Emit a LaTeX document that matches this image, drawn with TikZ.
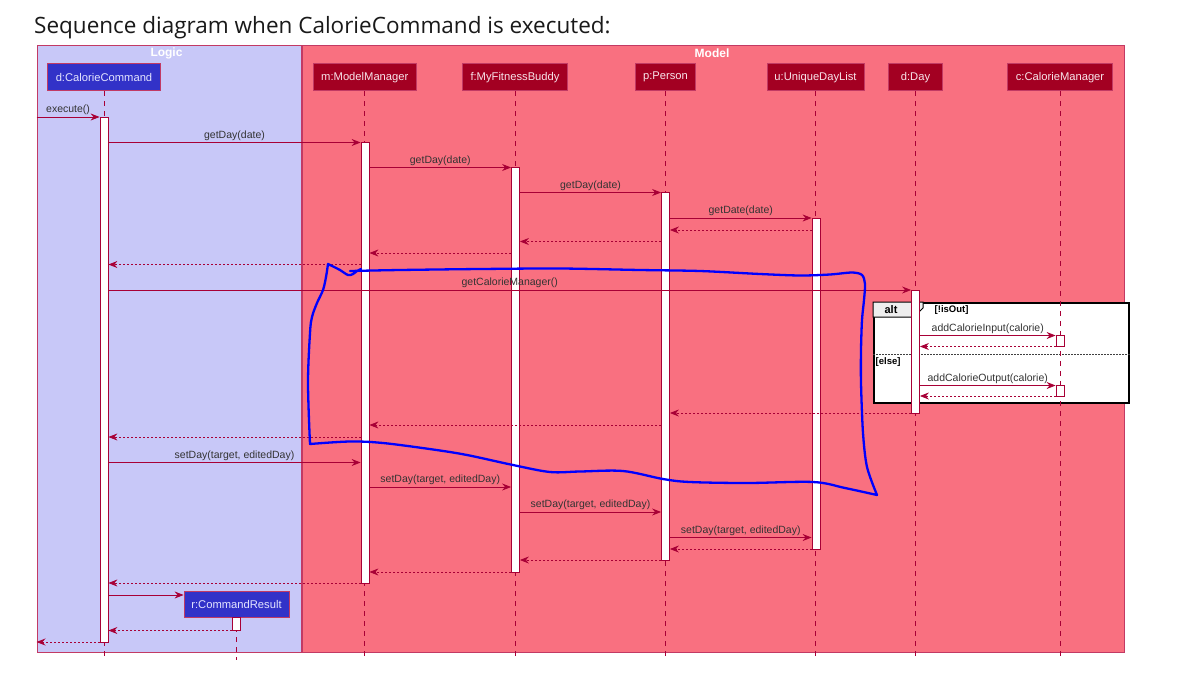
\documentclass[tikz,border=0pt]{standalone}
\usepackage{fontspec}
\setmainfont{Liberation Sans}
\newfontfamily\titlefont{Open Sans}
\usetikzlibrary{arrows.meta}
\definecolor{logicbg}{HTML}{C8C8F8}
\definecolor{modelbg}{HTML}{F97080}
\definecolor{umlred}{HTML}{A80036}
\definecolor{partred}{HTML}{A30022}
\definecolor{partblue}{HTML}{3232C8}
\definecolor{boxborder}{HTML}{C23A64}
\definecolor{lbltext}{HTML}{333333}
\definecolor{altgray}{HTML}{EEEEEE}
\definecolor{parttext}{HTML}{F8E4EA}
\definecolor{bparttext}{HTML}{E4E4FF}
\tikzset{
 part/.style={draw=boxborder, line width=0.8pt, fill=partred, text=parttext, font=\fontsize{11.2}{13}\selectfont, minimum height=27pt, inner sep=0pt},
 bluepart/.style={part, fill=partblue, text=bparttext},
 actbar/.style={draw=umlred, line width=0.8pt, fill=white, minimum width=8pt, inner sep=0pt},
 life/.style={draw=umlred, line width=0.8pt, dash pattern=on 5pt off 5pt},
 msg/.style={draw=umlred, line width=0.8pt, -{Stealth[length=9pt,width=7pt,inset=3pt]}},
 ret/.style={msg, dash pattern=on 2pt off 2pt},
 lbl/.style={text=lbltext, font=\fontsize{10.5}{12}\selectfont, inner sep=1.5pt, above},
 pkgtitle/.style={text=white, font=\bfseries\fontsize{12}{14}\selectfont},
 pkgbox/.style={draw=boxborder, line width=1pt},
 guard/.style={text=black, font=\bfseries\fontsize{9.5}{11}\selectfont, inner sep=0pt, anchor=base west},
 annot/.style={draw=blue, line width=2.3pt, line join=round, line cap=round},
}
\newcommand{\actbar}[4]{\node[actbar, minimum height={(#4-#3)*1pt}] (#1) at (#2,{(#3+#4)/2}) {};}
\begin{document}
\begin{tikzpicture}[x=1pt,y=-1pt]
\useasboundingbox (0,0) rectangle (1177,691);
\fill[white] (0,0) rectangle (1177,691);
% title
\node[anchor=base west, inner sep=0pt, font=\titlefont\fontsize{22.5}{27}\selectfont, text=black!90] (title) at (34,33) {Sequence diagram when CalorieCommand is executed:};
% packages
\node[pkgbox, fill=logicbg, anchor=north west, minimum width=264.5pt, minimum height=607pt, inner sep=0pt] (logic) at (36.5,45) {};
\node[pkgbox, fill=modelbg, anchor=north west, minimum width=822.5pt, minimum height=607pt, inner sep=0pt] (model) at (301.5,45) {};
\node[pkgtitle] (logicT) at (166.5,53.5) {Logic};
\node[pkgtitle] (modelT) at (712,53.5) {Model};
% participants
\node[bluepart, minimum width=112.5pt] (pD) at (104,77.3) {d:CalorieCommand};
\node[part, minimum width=103pt] (pM) at (364.8,77.3) {m:ModelManager};
\node[part, minimum width=105.5pt] (pF) at (515,77.3) {f:MyFitnessBuddy};
\node[part, minimum width=59.5pt] (pP) at (665.5,77.3) {p:Person};
\node[part, minimum width=97pt] (pU) at (815.5,77.3) {u:UniqueDayList};
\node[part, minimum width=53.5pt] (pDay) at (915.5,77.3) {d:Day};
\node[part, minimum width=104.5pt] (pC) at (1060,77.3) {c:CalorieManager};
\node[bluepart, minimum width=105pt, minimum height=26pt] (pR) at (236.5,604) {r:CommandResult};
% alt box
\node[draw=black, line width=1.5pt, fill=white, minimum width=255pt, minimum height=100pt, inner sep=0pt, anchor=north west] (alt) at (873,302) {};
\draw[fill=altgray, draw=black, line width=1pt] (alt.north west) -- ++(50,0) -- ++(0,6) -- ++(-9,9) -- ++(-41,0) -- cycle;
\node[font=\bfseries\fontsize{11}{13}\selectfont, anchor=base, inner sep=0pt] (altT) at (891,313.5) {alt};
\node[guard] (g1) at (934.5,312.5) {[!isOut]};
\draw[black!75, line width=0.7pt, dash pattern=on 1.5pt off 1.5pt] (alt.west |- 0,354) -- (alt.east |- 0,354);
\node[guard] (g2) at (875.5,364) {[else]};
% lifelines
\foreach \p in {pD,pM,pF,pP,pU,pDay,pC,pR} \draw[life] (\p.south) -- (\p.south |- 0,660);
% activation bars
\actbar{aD}{104}{117}{642}
\actbar{aM}{365}{142.5}{583}
\actbar{aF}{515.5}{167.5}{572}
\actbar{aP}{665.5}{192.5}{560}
\actbar{aU}{816}{218}{549}
\actbar{aDay}{915.5}{290}{413}
\actbar{aC1}{1060}{335.5}{346.5}
\actbar{aC2}{1060}{385.5}{396}
\actbar{aR}{236.5}{617}{630.5}
% free ends
\coordinate (inL) at (36.5,117);
\coordinate (outL) at (36.5,642);
% messages
\draw[msg] (inL) -- (aD.west |- 0,117) node[lbl, midway] {execute()};
\draw[msg] (aD.east |- 0,142.5) -- (aM.west |- 0,142.5) node[lbl, midway] {getDay(date)};
\draw[msg] (aM.east |- 0,167.5) -- (aF.west |- 0,167.5) node[lbl, midway] {getDay(date)};
\draw[msg] (aF.east |- 0,192.5) -- (aP.west |- 0,192.5) node[lbl, midway] {getDay(date)};
\draw[msg] (aP.east |- 0,218) -- (aU.west |- 0,218) node[lbl, midway] {getDate(date)};
\draw[ret] (aU.west |- 0,230) -- (aP.east |- 0,230);
\draw[ret] (aP.west |- 0,241.5) -- (aF.east |- 0,241.5);
\draw[ret] (aF.west |- 0,253) -- (aM.east |- 0,253);
\draw[ret] (aM.west |- 0,264.5) -- (aD.east |- 0,264.5);
\draw[msg] (aD.east |- 0,290) -- (aDay.west |- 0,290) node[lbl, midway] {getCalorieManager()};
\draw[msg] (aDay.east |- 0,335.5) -- (aC1.west |- 0,335.5) node[lbl, midway] {addCalorieInput(calorie)};
\draw[ret] (aC1.west |- 0,346.5) -- (aDay.east |- 0,346.5);
\draw[msg] (aDay.east |- 0,385.5) -- (aC2.west |- 0,385.5) node[lbl, midway] {addCalorieOutput(calorie)};
\draw[ret] (aC2.west |- 0,396) -- (aDay.east |- 0,396);
\draw[ret] (aDay.west |- 0,413) -- (aP.east |- 0,413);
\draw[ret] (aP.west |- 0,425) -- (aM.east |- 0,425);
\draw[ret] (aM.west |- 0,437) -- (aD.east |- 0,437);
\draw[msg] (aD.east |- 0,462.5) -- (aM.west |- 0,462.5) node[lbl, midway] {setDay(target, editedDay)};
\draw[msg] (aM.east |- 0,487) -- (aF.west |- 0,487) node[lbl, midway] {setDay(target, editedDay)};
\draw[msg] (aF.east |- 0,512) -- (aP.west |- 0,512) node[lbl, midway] {setDay(target, editedDay)};
\draw[msg] (aP.east |- 0,537.5) -- (aU.west |- 0,537.5) node[lbl, midway] {setDay(target, editedDay)};
\draw[ret] (aU.west |- 0,549) -- (aP.east |- 0,549);
\draw[ret] (aP.west |- 0,560) -- (aF.east |- 0,560);
\draw[ret] (aF.west |- 0,572) -- (aM.east |- 0,572);
\draw[ret] (aM.west |- 0,583) -- (aD.east |- 0,583);
\draw[msg] (aD.east |- 0,595) -- (pR.west |- 0,595);
\draw[ret] (aR.west |- 0,630.5) -- (aD.east |- 0,630.5);
\draw[ret] (aD.west |- 0,642) -- (outL);
% hand-drawn annotation
\draw[annot] plot[smooth, tension=0.5] coordinates {(350,271) (400,270) (480,269) (560,268.5) (640,270) (700,271) (760,274) (800,275.5) (830,274.5) (852,272.5) (862,275) (865,284) (864,300) (862,320) (861,350) (861,383) (863,433) (867,467) (877,495)}
 -- plot[smooth, tension=0.55] coordinates {(877,495) (845,488) (813,482) (747,483) (690,482) (663,479) (623,471) (580,471.5) (550,472) (513,465) (467,455) (433,449.5) (383,443) (350,441.5) (310,444)}
 -- plot[smooth, tension=0.55] coordinates {(310,444) (308,383) (310,333) (312,317) (317,303) (323,290) (326,277) (328,264)}
 -- plot[smooth, tension=0.55] coordinates {(328,264) (340,270) (348,275) (353,274) (357,271) (361,269)};
\end{tikzpicture}
\end{document}
